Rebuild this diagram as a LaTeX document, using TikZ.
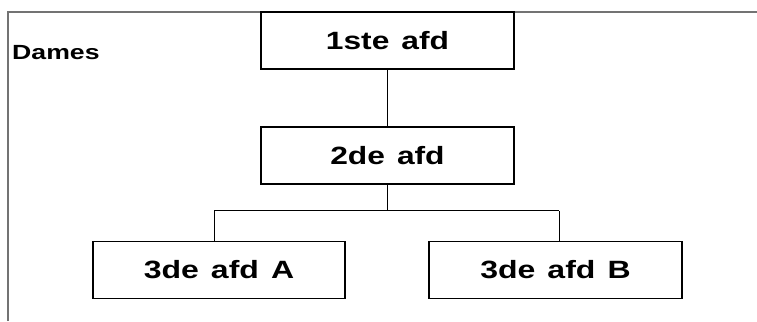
\documentclass[tikz,border=0pt]{standalone}
\usepackage{fontspec}
\setmainfont{Liberation Sans}
\newcommand{\wsp}{\ \kern2.5pt}
\begin{document}
\begin{tikzpicture}[x=1pt,y=1pt,
  orgbox/.style={draw=black, line width=1.2pt, rectangle, inner sep=0pt,
    minimum width=253pt, minimum height=57pt, font=\fontsize{25}{28}\selectfont\bfseries},
  link/.style={draw=black, line width=1pt},
  frame/.style={draw=black!55, line width=1.2pt}]
\useasboundingbox (0,0) rectangle (757,321);
% frame
\coordinate (ftl) at (8,309);
\coordinate (ftr) at (757,309);
\coordinate (fbl) at (8,0);
\draw[frame] (fbl) -- (ftl) -- (ftr);
\node[anchor=west, font=\fontsize{20.5}{24}\selectfont\bfseries, inner sep=0pt] (dames) at (12,268.5) {\scalebox{1.3}[1]{Dames}};
% boxes
\node[orgbox] (b1) at (387.5,280.5) {\scalebox{1.27}[1]{1ste\wsp afd}};
\node[orgbox] (b2) at (387.5,165.5) {\scalebox{1.27}[1]{2de\wsp afd}};
\node[orgbox, minimum width=252pt] (b3a) at (219,51) {\scalebox{1.28}[1]{3de\wsp afd\wsp A}};
\node[orgbox] (b3b) at (555.5,51) {\scalebox{1.28}[1]{3de\wsp afd\wsp B}};
% connectors
\draw[link] (b1.south) -- (b2.north);
\coordinate (junc) at (b2.south |- 0,110);
\coordinate (jl) at (214,110);
\coordinate (jr) at (559,110);
\draw[link] (b2.south) -- (junc);
\draw[link] (jl) -- (jr);
\draw[link] (jl) -- (jl |- b3a.north);
\draw[link] (jr) -- (jr |- b3b.north);
\end{tikzpicture}
\end{document}
